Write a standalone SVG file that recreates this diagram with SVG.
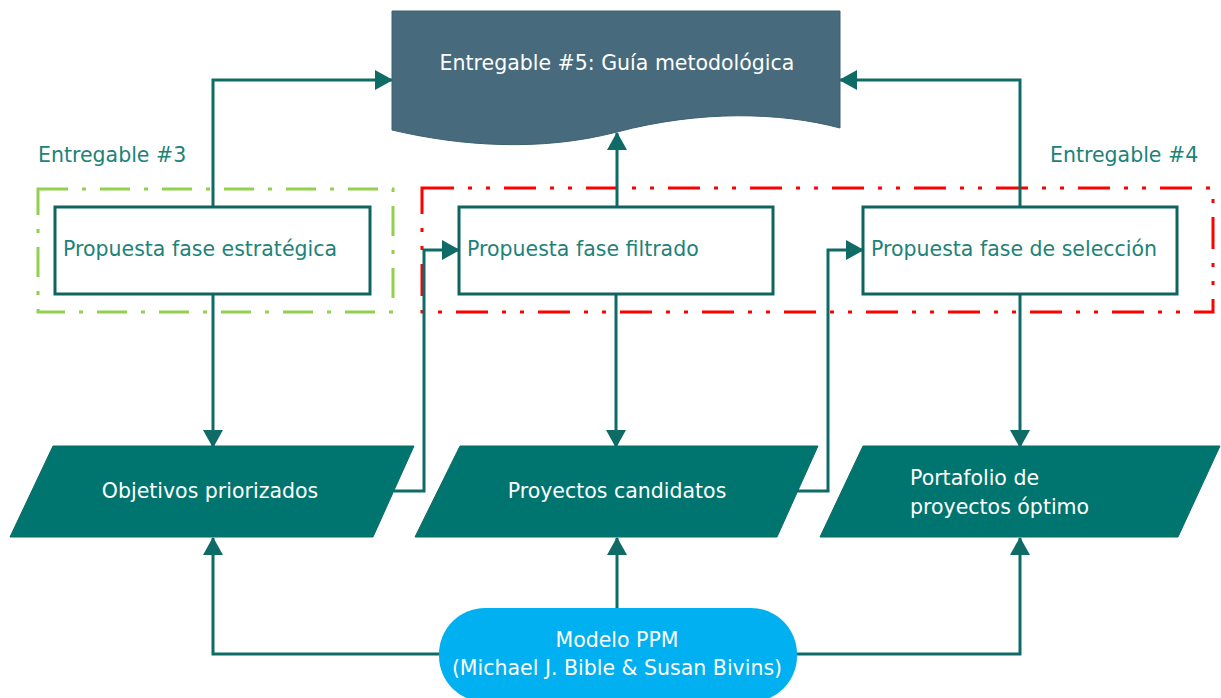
<svg xmlns="http://www.w3.org/2000/svg" width="1221" height="698" viewBox="0 0 1221 698">
  <defs>
    <marker id="arrow" viewBox="0 0 18 20" markerWidth="18" markerHeight="20" refX="17" refY="10" orient="auto" markerUnits="userSpaceOnUse">
      <path d="M0,0 L18,10 L0,20 Z" fill="#0f6b65"/>
    </marker>
    <style>
      .lbl { font-family: "DejaVu Sans", "Liberation Sans", sans-serif; font-size: 20.5px; }
      .box { fill: #ffffff; stroke: #0f6460; stroke-width: 3; }
      .boxtxt { fill: #1d8279; }
      .para { fill: #00756f; stroke: #0b6b65; stroke-width: 1; }
      .white { fill: #ffffff; }
      .conn { fill: none; stroke: #0f6b65; stroke-width: 3; }
      .ent { fill: #1d8279; }
    </style>
  </defs>

  <rect width="1221" height="698" fill="#ffffff"/>

  <!-- deliverable frames -->
  <g id="entregable3">
    <rect x="38" y="189" width="355" height="123" fill="none" stroke="#92d050" stroke-width="3" stroke-dasharray="30 14 4 14"/>
    <text class="lbl ent" x="38" y="162" font-size="20">Entregable #3</text>
  </g>
  <g id="entregable4">
    <rect x="422" y="188" width="791" height="124" fill="none" stroke="#ff0000" stroke-width="3" stroke-dasharray="32 14 4 14 4 14"/>
    <text class="lbl ent" x="1050" y="162" font-size="20">Entregable #4</text>
  </g>

  <!-- connectors -->
  <g id="connectors">
    <path class="conn" d="M213,207 V80 H392" marker-end="url(#arrow)"/>
    <path class="conn" d="M1020,207 V80 H840" marker-end="url(#arrow)"/>
    <path class="conn" d="M617,207 V133" marker-end="url(#arrow)"/>
    <path class="conn" d="M213,294 V447" marker-end="url(#arrow)"/>
    <path class="conn" d="M616,294 V447" marker-end="url(#arrow)"/>
    <path class="conn" d="M1020,294 V447" marker-end="url(#arrow)"/>
    <path class="conn" d="M394,491 H424 V250 H459" marker-end="url(#arrow)"/>
    <path class="conn" d="M797,491 H828 V250 H863" marker-end="url(#arrow)"/>
    <path class="conn" d="M617,608 V538" marker-end="url(#arrow)"/>
    <path class="conn" d="M440,654 H213 V538" marker-end="url(#arrow)"/>
    <path class="conn" d="M796,654 H1020 V538" marker-end="url(#arrow)"/>
  </g>

  <!-- document node -->
  <g id="guia">
    <path d="M392,11 H840 V128 C780,112 700,110 617,132 C540,152 460,146 392,130 Z" fill="#476b7c" stroke="#3d6070" stroke-width="1"/>
    <text class="lbl white" x="617" y="70" text-anchor="middle">Entregable #5: Guía metodológica</text>
  </g>

  <!-- process boxes -->
  <g id="fase-estrategica">
    <rect class="box" x="55" y="207" width="315" height="87"/>
    <text class="lbl boxtxt" x="63" y="256">Propuesta fase estratégica</text>
  </g>
  <g id="fase-filtrado">
    <rect class="box" x="459" y="207" width="314" height="87"/>
    <text class="lbl boxtxt" x="467" y="256">Propuesta fase filtrado</text>
  </g>
  <g id="fase-seleccion">
    <rect class="box" x="863" y="207" width="314" height="87"/>
    <text class="lbl boxtxt" x="871" y="256">Propuesta fase de selección</text>
  </g>

  <!-- data nodes -->
  <g id="objetivos">
    <polygon class="para" points="53,446 414,446 373,537 10,537"/>
    <text class="lbl white" x="210" y="498" text-anchor="middle">Objetivos priorizados</text>
  </g>
  <g id="proyectos">
    <polygon class="para" points="460,446 818,446 777,537 415,537"/>
    <text class="lbl white" x="617" y="498" text-anchor="middle">Proyectos candidatos</text>
  </g>
  <g id="portafolio">
    <polygon class="para" points="863,446 1220,446 1178,537 820,537"/>
    <text class="lbl white" x="910" y="485">Portafolio de</text>
    <text class="lbl white" x="910" y="514">proyectos óptimo</text>
  </g>

  <!-- source model -->
  <g id="modelo-ppm">
    <rect x="439" y="608" width="358" height="94" rx="46" fill="#00b0f0"/>
    <text class="lbl white" x="617" y="647" text-anchor="middle">Modelo PPM</text>
    <text class="lbl white" x="617" y="675" text-anchor="middle">(Michael J. Bible &amp; Susan Bivins)</text>
  </g>
</svg>
